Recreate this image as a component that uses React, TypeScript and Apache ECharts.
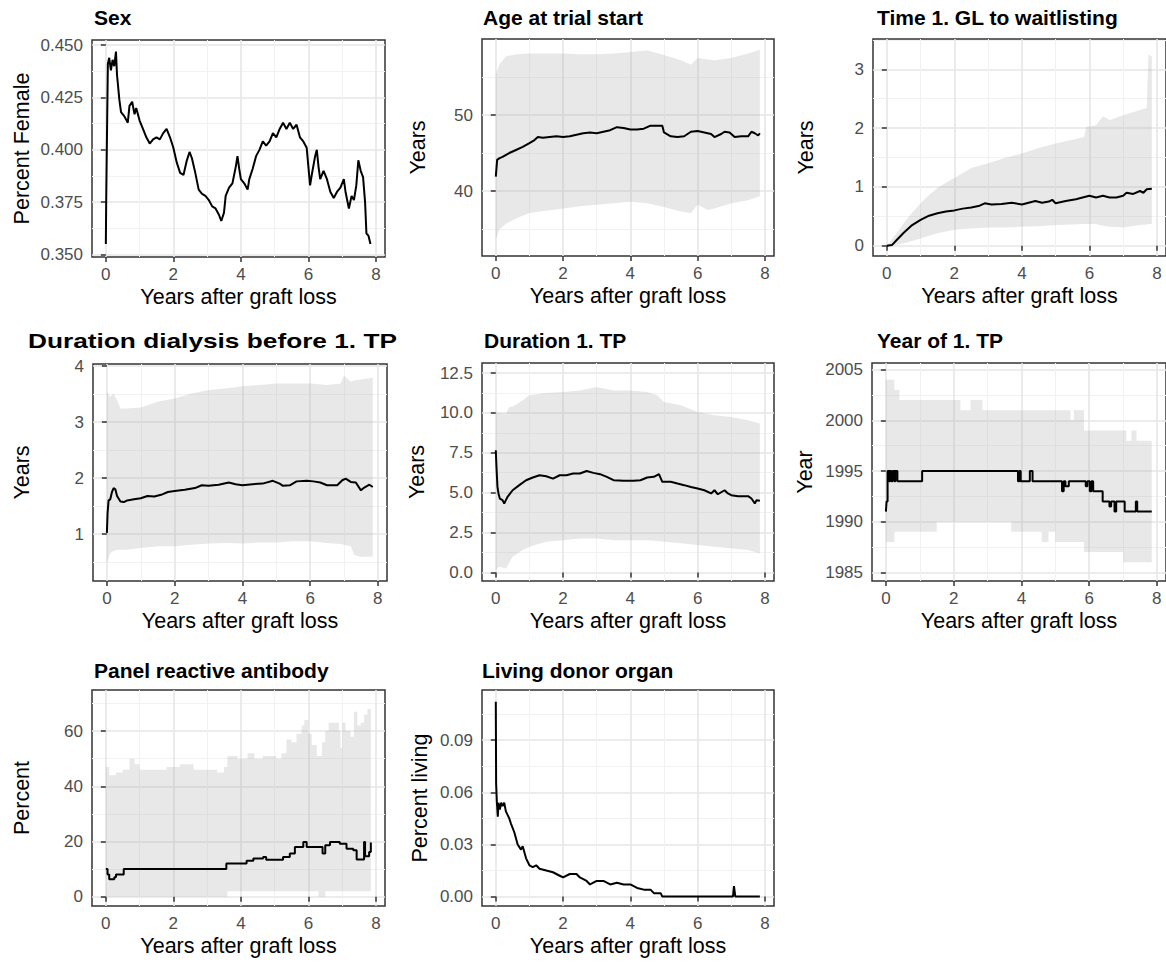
import React, { useEffect, useRef } from 'react';
import * as echarts from 'echarts';

const FONT = "'Liberation Sans', Arial, Helvetica, sans-serif";
const RIBBON = 'rgba(170,170,170,0.27)';

// ---------------- DATA ----------------
const xMajor = [0, 2, 4, 6, 8];
const xMinor = [1, 3, 5, 7];

// Sex: [year, share female]
const sexLine = [[0,0.355],[0.01,0.374],[0.03,0.402],[0.06,0.441],[0.1,0.444],[0.15,0.438],[0.2,0.443],[0.25,0.44],[0.3,0.447],[0.33,0.436],[0.4,0.424],[0.45,0.418],[0.55,0.416],[0.65,0.413],[0.7,0.421],[0.78,0.423],[0.85,0.417],[0.9,0.42],[1.0,0.414],[1.1,0.41],[1.2,0.406],[1.3,0.403],[1.4,0.405],[1.5,0.406],[1.6,0.405],[1.7,0.408],[1.8,0.41],[1.9,0.406],[2.0,0.401],[2.1,0.394],[2.2,0.389],[2.3,0.388],[2.4,0.395],[2.48,0.399],[2.55,0.396],[2.65,0.389],[2.75,0.381],[2.85,0.379],[2.95,0.378],[3.05,0.376],[3.15,0.373],[3.25,0.372],[3.35,0.369],[3.42,0.366],[3.5,0.37],[3.55,0.378],[3.65,0.382],[3.75,0.384],[3.85,0.392],[3.9,0.397],[3.95,0.391],[4.0,0.386],[4.1,0.384],[4.2,0.381],[4.25,0.386],[4.35,0.391],[4.45,0.397],[4.55,0.4],[4.65,0.404],[4.75,0.402],[4.85,0.404],[4.95,0.408],[5.05,0.406],[5.15,0.41],[5.25,0.413],[5.35,0.41],[5.45,0.413],[5.55,0.41],[5.65,0.412],[5.75,0.406],[5.85,0.404],[5.95,0.401],[6.05,0.383],[6.1,0.388],[6.2,0.397],[6.25,0.4],[6.3,0.392],[6.35,0.386],[6.45,0.39],[6.55,0.386],[6.65,0.38],[6.75,0.377],[6.85,0.38],[6.95,0.382],[7.05,0.386],[7.1,0.38],[7.2,0.372],[7.28,0.378],[7.35,0.376],[7.42,0.383],[7.48,0.395],[7.55,0.39],[7.62,0.387],[7.68,0.375],[7.72,0.36],[7.78,0.359],[7.84,0.355]];

// Age at trial start
const ageLine = [[0,41.9],[0.02,43.0],[0.04,44.1],[0.1,44.3],[0.2,44.5],[0.4,45.0],[0.6,45.4],[0.8,45.8],[1.0,46.3],[1.15,46.7],[1.25,47.1],[1.4,47.0],[1.6,47.1],[1.8,47.2],[2.0,47.1],[2.2,47.2],[2.4,47.4],[2.6,47.6],[2.8,47.7],[3.0,47.6],[3.2,47.8],[3.4,48.0],[3.6,48.4],[3.8,48.3],[4.0,48.1],[4.2,48.1],[4.4,48.2],[4.6,48.6],[4.8,48.6],[4.95,48.6],[5.0,47.7],[5.2,47.2],[5.4,47.1],[5.6,47.2],[5.8,47.8],[6.0,47.9],[6.2,47.7],[6.4,47.5],[6.5,47.1],[6.7,47.5],[6.8,47.8],[6.95,47.7],[7.1,47.1],[7.3,47.2],[7.5,47.2],[7.6,47.8],[7.7,47.6],[7.8,47.3],[7.85,47.6]];
// [year, lower, upper]
const ageRibbon = [[0,33.6,55.3],[0.1,34.9,56.6],[0.3,35.7,57.7],[0.6,36.4,58.0],[1.0,37.1,58.1],[1.5,37.4,58.1],[2.0,37.7,58.1],[2.5,38.0,58.0],[3.0,38.2,58.0],[3.5,38.4,58.1],[4.0,38.6,58.3],[4.5,38.4,58.5],[5.0,37.9,57.9],[5.5,37.3,57.2],[5.8,37.1,56.6],[6.0,38.2,57.5],[6.3,37.5,57.3],[6.5,37.7,57.2],[7.0,38.4,57.5],[7.5,38.8,58.1],[7.85,39.3,58.6]];

// Time 1. GL to waitlisting
const wlLine = [[0,0],[0.15,0.01],[0.3,0.1],[0.5,0.22],[0.75,0.35],[1.0,0.44],[1.25,0.51],[1.5,0.55],[1.75,0.58],[2.0,0.6],[2.25,0.63],[2.5,0.65],[2.75,0.68],[2.9,0.72],[3.1,0.7],[3.4,0.71],[3.7,0.73],[4.0,0.7],[4.2,0.73],[4.4,0.76],[4.6,0.73],[4.8,0.75],[4.9,0.78],[5.0,0.72],[5.3,0.76],[5.6,0.79],[5.8,0.82],[6.0,0.85],[6.2,0.82],[6.4,0.85],[6.6,0.82],[6.8,0.82],[7.0,0.85],[7.1,0.9],[7.3,0.88],[7.5,0.93],[7.6,0.9],[7.7,0.96],[7.85,0.97]];
const wlRibbon = [[0,0,0],[0.25,0.01,0.18],[0.5,0.04,0.38],[0.75,0.08,0.56],[1.0,0.12,0.72],[1.25,0.17,0.86],[1.5,0.21,0.98],[1.75,0.24,1.07],[2.0,0.27,1.15],[2.5,0.29,1.32],[3.0,0.31,1.4],[3.5,0.31,1.49],[4.0,0.32,1.57],[4.5,0.33,1.66],[5.0,0.35,1.74],[5.5,0.36,1.8],[5.85,0.37,1.85],[5.9,0.37,2.02],[6.2,0.37,2.05],[6.4,0.34,2.2],[6.6,0.32,2.14],[7.0,0.31,2.22],[7.5,0.35,2.31],[7.7,0.36,2.34],[7.75,0.37,3.25],[7.85,0.37,3.22]];

// Duration dialysis before 1. TP
const dialLine = [[0,1.02],[0.02,1.37],[0.05,1.6],[0.1,1.62],[0.15,1.75],[0.2,1.82],[0.25,1.8],[0.3,1.68],[0.4,1.58],[0.5,1.57],[0.6,1.6],[0.8,1.62],[1.0,1.64],[1.2,1.68],[1.4,1.67],[1.6,1.7],[1.8,1.75],[2.0,1.77],[2.3,1.79],[2.6,1.82],[2.8,1.87],[3.0,1.86],[3.3,1.88],[3.6,1.92],[3.8,1.89],[4.0,1.87],[4.3,1.89],[4.6,1.9],[4.9,1.95],[5.1,1.9],[5.2,1.86],[5.4,1.87],[5.6,1.94],[5.9,1.95],[6.1,1.94],[6.3,1.92],[6.5,1.87],[6.8,1.87],[6.95,1.96],[7.05,1.99],[7.2,1.93],[7.35,1.92],[7.5,1.78],[7.6,1.83],[7.75,1.88],[7.85,1.84]];
const dialRibbon = [[0,0.48,3.54],[0.1,0.66,3.45],[0.2,0.7,3.51],[0.3,0.72,3.39],[0.4,0.72,3.24],[0.6,0.72,3.24],[1.0,0.75,3.26],[1.5,0.78,3.36],[2.0,0.78,3.42],[2.5,0.81,3.51],[3.0,0.83,3.57],[3.5,0.84,3.6],[4.0,0.83,3.64],[4.5,0.85,3.66],[5.0,0.85,3.69],[5.5,0.87,3.69],[6.0,0.87,3.69],[6.5,0.84,3.66],[6.9,0.82,3.69],[7.0,0.81,3.83],[7.2,0.78,3.72],[7.3,0.63,3.74],[7.5,0.59,3.76],[7.85,0.6,3.79]];

// Duration 1. TP
const durLine = [[0,7.66],[0.02,6.6],[0.05,5.36],[0.08,4.95],[0.12,4.63],[0.2,4.53],[0.25,4.32],[0.3,4.53],[0.35,4.74],[0.5,5.15],[0.7,5.47],[0.9,5.78],[1.1,5.95],[1.3,6.09],[1.5,6.03],[1.7,5.88],[1.9,6.09],[2.1,6.09],[2.3,6.2],[2.5,6.2],[2.7,6.36],[2.9,6.24],[3.1,6.16],[3.3,5.99],[3.5,5.78],[3.8,5.74],[4.1,5.74],[4.3,5.78],[4.5,5.95],[4.7,5.99],[4.85,6.16],[4.95,5.68],[5.2,5.68],[5.4,5.57],[5.6,5.47],[5.8,5.36],[6.0,5.26],[6.2,5.15],[6.4,4.95],[6.5,5.15],[6.6,4.9],[6.8,5.15],[6.9,4.95],[7.0,4.84],[7.2,4.78],[7.5,4.78],[7.6,4.63],[7.7,4.32],[7.75,4.53],[7.85,4.49]];
const durRibbon = [[0,0.15,10.06],[0.1,0.35,10.0],[0.3,0.25,9.95],[0.4,0.6,10.37],[0.5,0.98,10.4],[0.8,1.4,10.79],[1.0,1.61,11.1],[1.5,1.92,11.25],[2.0,2.02,11.31],[2.5,2.13,11.41],[3.0,2.13,11.62],[3.5,2.02,11.41],[4.0,2.02,11.41],[4.5,2.02,11.31],[4.8,1.97,11.1],[5.0,1.92,10.68],[5.5,1.82,10.48],[6.0,1.71,10.06],[6.5,1.61,9.85],[7.0,1.5,9.75],[7.5,1.4,9.54],[7.85,1.19,9.33]];

// Year of 1. TP (step)
const yearLine = [[0,1991],[0.02,1992],[0.05,1995],[0.09,1994],[0.12,1995],[0.16,1994],[0.2,1995],[0.25,1994],[0.28,1995],[0.34,1994],[1.07,1995],[3.9,1994],[3.94,1995],[3.98,1994],[4.25,1995],[4.33,1994],[5.2,1993],[5.25,1994],[5.3,1993.5],[5.4,1994],[5.9,1993.5],[5.95,1994],[6.02,1993],[6.07,1994],[6.12,1993],[6.4,1992],[6.6,1991.5],[6.65,1992],[6.75,1991],[6.8,1992],[7.05,1991],[7.38,1992],[7.42,1991],[7.85,1991]];
const yearRibbon = [[0,1988,2004],[0.25,1989,2003],[0.4,1989,2002],[1.5,1990,2002],[2.2,1990,2001],[2.5,1990,2002],[2.85,1990,2001],[3.7,1989,2001],[4.6,1988,2001],[4.8,1989,2001],[5.0,1988,2001],[5.45,1988,2000],[5.55,1988,2001],[5.85,1987,1999],[6.75,1987,1999],[7.0,1986,1999],[7.1,1986,1998],[7.25,1986,1999],[7.4,1986,1998],[7.85,1985.5,1998]];

// Panel reactive antibody (step)
const praLine = [[0,10],[0.05,8],[0.1,6.3],[0.25,7],[0.3,8],[0.53,10],[3.57,12],[4.17,13],[4.37,13.8],[4.66,14.4],[4.75,13.4],[5.25,14.4],[5.45,15.6],[5.6,18],[5.85,19.8],[5.95,18],[6.42,15.6],[6.5,18.6],[6.64,19.8],[6.93,19.2],[7.13,17.4],[7.33,16.8],[7.43,13.5],[7.65,19.8],[7.68,14.6],[7.8,16.2],[7.85,19.6]];
const praRibbon = [[0,0,47],[0.1,0,44],[0.3,0,45],[0.5,0,46],[0.7,0,50],[0.85,0,48],[1.0,0,46],[1.4,0,46],[1.8,0,47],[2.2,0,48],[2.6,0,46],[3.0,0,46],[3.3,0,45],[3.5,0,47],[3.6,2,51],[3.9,2,50],[4.2,2,52],[4.4,2,50],[4.65,2,51],[5.05,2,50],[5.2,2,52],[5.35,2,57],[5.5,2,56],[5.65,2,59],[5.8,2,62],[5.88,2,64],[6.0,2,59],[6.1,2,55],[6.25,2,51],[6.3,0,51],[6.4,0,56],[6.5,2,60],[6.6,2,63],[6.75,2,63],[6.9,2,60],[6.95,2,54],[7.0,2,63],[7.1,2,60],[7.25,2,58],[7.35,2,67],[7.45,2,62],[7.55,2,63],[7.65,2,66],[7.75,2,68],[7.85,2,67]];

// Living donor organ
const livLine = [[0,0.112],[0.01,0.065],[0.03,0.055],[0.06,0.046],[0.08,0.054],[0.12,0.05],[0.16,0.054],[0.2,0.052],[0.25,0.054],[0.3,0.049],[0.35,0.047],[0.4,0.045],[0.45,0.042],[0.55,0.037],[0.65,0.03],[0.75,0.027],[0.8,0.029],[0.9,0.022],[1.0,0.018],[1.1,0.017],[1.2,0.018],[1.3,0.016],[1.5,0.015],[1.7,0.014],[1.9,0.012],[2.0,0.011],[2.2,0.013],[2.4,0.013],[2.5,0.011],[2.7,0.009],[2.8,0.007],[3.0,0.009],[3.2,0.009],[3.4,0.007],[3.6,0.008],[3.8,0.007],[4.0,0.007],[4.1,0.006],[4.2,0.005],[4.4,0.004],[4.6,0.004],[4.7,0.002],[4.9,0.002],[4.95,0],[7.05,0],[7.08,0.006],[7.12,0],[7.85,0]];

// y tick values
const sexTicks = [0.35, 0.375, 0.4, 0.425, 0.45];
const sexMinor = [0.3625, 0.3875, 0.4125, 0.4375];
const ageTicks = [40, 50];
const ageMinor = [35, 45, 55];
const wlTicks = [0, 1, 2, 3];
const wlMinor = [0.5, 1.5, 2.5, 3.5];
const dialTicks = [1, 2, 3, 4];
const dialMinor = [0.5, 1.5, 2.5, 3.5];
const durTicks = [0, 2.5, 5, 7.5, 10, 12.5];
const durMinor = [1.25, 3.75, 6.25, 8.75, 11.25];
const yearTicks = [1985, 1990, 1995, 2000, 2005];
const yearMinor = [1987.5, 1992.5, 1997.5, 2002.5];
const praTicks = [0, 20, 40, 60];
const praMinor = [10, 30, 50, 70];
const livTicks = [0, 0.03, 0.06, 0.09];
const livMinor = [0.015, 0.045, 0.075, 0.105];

// ---------------- LAYOUT ----------------
const X_MIN = -0.41;
const X_MAX = 8.27;

type Panel = {
  title: string; yName: string;
  line: number[][]; ribbon?: number[][]; step?: boolean;
  yMin: number; yMax: number; yMajor: number[]; yMinor: number[]; dec: number;
  left: number; top: number; width: number; height: number;
  nameGap: number; titleX: number; titleY: number; titleScale?: number;
};

const panels: Panel[] = [
  { title: 'Sex', yName: 'Percent Female', line: sexLine, yMin: 0.3488, yMax: 0.4525, yMajor: sexTicks, yMinor: sexMinor, dec: 3,
    left: 92, top: 40, width: 293, height: 217, nameGap: 59, titleX: 94, titleY: 17 },
  { title: 'Age at trial start', yName: 'Years', line: ageLine, ribbon: ageRibbon, yMin: 31.45, yMax: 60.0, yMajor: ageTicks, yMinor: ageMinor, dec: 0,
    left: 482, top: 39, width: 292, height: 217, nameGap: 53, titleX: 483, titleY: 17 },
  { title: 'Time 1. GL to waitlisting', yName: 'Years', line: wlLine, ribbon: wlRibbon, yMin: -0.176, yMax: 3.516, yMajor: wlTicks, yMinor: wlMinor, dec: 0,
    left: 873, top: 39, width: 295, height: 217, nameGap: 56, titleX: 877, titleY: 17 },
  { title: 'Duration dialysis before 1. TP', yName: 'Years', line: dialLine, ribbon: dialRibbon, yMin: 0.161, yMax: 4.036, yMajor: dialTicks, yMinor: dialMinor, dec: 0,
    left: 93, top: 364, width: 294, height: 217, nameGap: 60, titleX: 28, titleY: 340.5, titleScale: 1.25 },
  { title: 'Duration 1. TP', yName: 'Years', line: durLine, ribbon: durRibbon, yMin: -0.54, yMax: 13.13, yMajor: durTicks, yMinor: durMinor, dec: 1,
    left: 482, top: 363, width: 292, height: 218, nameGap: 54, titleX: 484, titleY: 340.5 },
  { title: 'Year of 1. TP', yName: 'Year', line: yearLine, ribbon: yearRibbon, step: true, yMin: 1984.15, yMax: 2005.66, yMajor: yearTicks, yMinor: yearMinor, dec: 0,
    left: 872, top: 363, width: 296, height: 218, nameGap: 56, titleX: 877, titleY: 340.5 },
  { title: 'Panel reactive antibody', yName: 'Percent', line: praLine, ribbon: praRibbon, step: true, yMin: -3.39, yMax: 74.9, yMajor: praTicks, yMinor: praMinor, dec: 0,
    left: 92, top: 690, width: 293, height: 216, nameGap: 59, titleX: 94, titleY: 670 },
  { title: 'Living donor organ', yName: 'Percent living', line: livLine, yMin: -0.0054, yMax: 0.1188, yMajor: livTicks, yMinor: livMinor, dec: 2,
    left: 482, top: 690, width: 292, height: 216, nameGap: 51, titleX: 482, titleY: 670 },
];

const MAJOR = { color: '#e6e6e6', width: 1.6 };
const MINOR = { color: '#f2f2f2', width: 1 };
const TICK = { color: '#333333', width: 1.5 };

// Build the ribbon polygon through the axis scales (api.coord)
function makeRibbonRenderer(rows: number[][], step: boolean) {
  return (params: any, api: any) => {
    if (params.dataIndex !== 0) return null;
    const upper: number[][] = [];
    const lower: number[][] = [];
    rows.forEach((r, k) => {
      if (step && k > 0) {
        const prev = rows[k - 1];
        upper.push(api.coord([r[0], prev[2]]));
        lower.push(api.coord([r[0], prev[1]]));
      }
      upper.push(api.coord([r[0], r[2]]));
      lower.push(api.coord([r[0], r[1]]));
    });
    const points = upper.concat(lower.reverse());
    return {
      type: 'polygon',
      shape: { points },
      style: { fill: RIBBON, stroke: 'none' },
      silent: true,
    };
  };
}

function buildOption() {
  const grid: any[] = [];
  const xAxis: any[] = [];
  const yAxis: any[] = [];
  const series: any[] = [];
  const graphic: any[] = [];

  panels.forEach((p, i) => {
    grid.push({
      left: p.left, top: p.top, width: p.width, height: p.height,
      show: true, borderColor: '#333333', borderWidth: 1.5, backgroundColor: '#ffffff',
    });
    xAxis.push({
      type: 'value', gridIndex: i, position: 'bottom', min: X_MIN, max: X_MAX,
      name: 'Years after graft loss', nameLocation: 'middle', nameGap: 29,
      nameTextStyle: { fontSize: 21.5, color: '#000', fontFamily: FONT },
      axisLine: { show: false },
      axisTick: { show: true, length: 5, customValues: xMajor, lineStyle: TICK },
      axisLabel: { customValues: xMajor, color: '#4d4d4d', fontSize: 17, margin: 9, fontFamily: FONT,
        formatter: (v: number) => String(v) },
      splitLine: { show: true, lineStyle: MAJOR },
    });
    xAxis.push({
      type: 'value', gridIndex: i, position: 'bottom', min: X_MIN, max: X_MAX,
      axisLine: { show: false },
      axisTick: { show: false, customValues: xMinor },
      axisLabel: { show: false, customValues: xMinor },
      splitLine: { show: true, lineStyle: MINOR },
    });
    yAxis.push({
      type: 'value', gridIndex: i, position: 'left', min: p.yMin, max: p.yMax,
      name: p.yName, nameLocation: 'middle', nameGap: p.nameGap,
      nameTextStyle: { fontSize: 21.5, color: '#000', fontFamily: FONT },
      axisLine: { show: false },
      axisTick: { show: true, length: 5, customValues: p.yMajor, lineStyle: TICK },
      axisLabel: { customValues: p.yMajor, color: '#4d4d4d', fontSize: 17, margin: 9, fontFamily: FONT,
        formatter: (v: number) => v.toFixed(p.dec) },
      splitLine: { show: true, lineStyle: MAJOR },
    });
    yAxis.push({
      type: 'value', gridIndex: i, position: 'left', min: p.yMin, max: p.yMax,
      axisLine: { show: false },
      axisTick: { show: false, customValues: p.yMinor },
      axisLabel: { show: false, customValues: p.yMinor },
      splitLine: { show: true, lineStyle: MINOR },
    });

    const xi = 2 * i;
    const yi = 2 * i;
    if (p.ribbon) {
      series.push({
        type: 'custom', xAxisIndex: xi, yAxisIndex: yi, silent: true, clip: true,
        coordinateSystem: 'cartesian2d',
        data: p.ribbon,
        encode: { x: 0, y: [1, 2] },
        renderItem: makeRibbonRenderer(p.ribbon, !!p.step),
        z: 1,
      });
    }
    series.push({
      type: 'line', xAxisIndex: xi, yAxisIndex: yi, symbol: 'none', silent: true,
      step: p.step ? 'end' : false,
      lineStyle: { color: '#000000', width: 2 },
      data: p.line,
      z: 3,
    });

    graphic.push({
      type: 'text', x: p.titleX, y: p.titleY, scaleX: p.titleScale || 1,
      style: {
        text: p.title, fill: '#000000', fontSize: 21, fontWeight: 'bold', fontFamily: FONT,
        align: 'left', verticalAlign: 'middle',
      },
    });
  });

  return {
    animation: false,
    backgroundColor: '#ffffff',
    textStyle: { fontFamily: FONT },
    grid, xAxis, yAxis, series, graphic,
  };
}

export default function App() {
  const ref = useRef<HTMLDivElement>(null);
  useEffect(() => {
    if (!ref.current) return;
    const chart = echarts.init(ref.current, undefined, { renderer: 'svg' });
    chart.setOption(buildOption() as any);
    return () => chart.dispose();
  }, []);
  return (
    <div
      ref={ref}
      style={{ position: 'absolute', left: 0, top: 0, width: 1166, height: 963, background: '#fff' }}
    />
  );
}
